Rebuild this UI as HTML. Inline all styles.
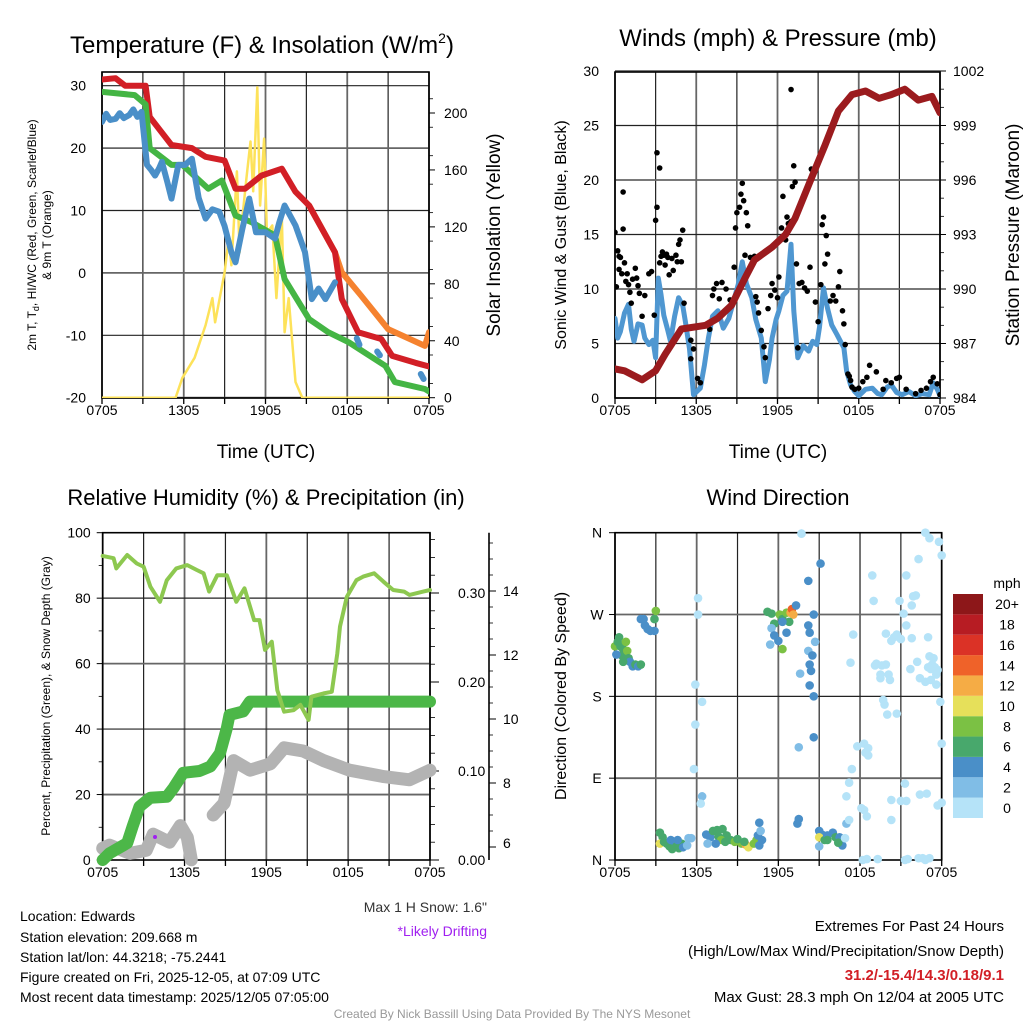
<!DOCTYPE html>
<html><head><meta charset="utf-8"><style>
body{margin:0;background:#fff;}
svg{display:block;font-family:"Liberation Sans",Arial,sans-serif;}
</style></head><body>
<svg id="c" width="1024" height="1024" viewBox="0 0 1024 1024"></svg>
<script>
// ---------- DATA ----------
const xTickLabels=["0705","1305","1905","0105","0705"];
const tempTicks=[-20,-10,0,10,20,30];
const solarTicks=[0,40,80,120,160,200];
const windTicks=[0,5,10,15,20,25,30];
const presTicks=[984,987,990,993,996,999,1002];
const rhTicks=[0,20,40,60,80,100];
const precipTicks=[0.00,0.10,0.20,0.30];
const precipTickLabels=["0.00","0.10","0.20","0.30"];
const snowTicks=[6,8,10,12,14];
const dirTickLabels=["N","E","S","W","N"];
const speedBins=["0","2","4","6","8","10","12","14","16","18","20+"];
const speedColors=["#b5e3f8","#80bde6","#4a8fc8","#48a86c","#7bc144","#e6e05a","#f5ac45","#ef6229","#db3226","#b71c23","#8d1719"];

const tHours=[0,1,1.7,3.2,3.5,5.1,6.6,7.6,9,9.8,10.5,11.7,13.2,14.2,15.2,17.1,17.6,18.8,20.5,21.3,23,24];
const tempRed=[31,31.2,30,30,25,20.5,20,18.6,18,13.5,13.5,15.6,16.7,13,10.8,3.3,-4.2,-9.5,-10.6,-13.3,-14.4,-15];
const oHours=[15.2,17.1,17.6,19,21,23.7,24];
const temp9m=[10.8,3.3,0.1,-3.6,-9,-11.7,-9.5];
const dHours=[0,2.4,3.2,3.5,5.1,5.9,7.8,8.8,9.8,11,12.7,13.4,15.2,16.6,18.1,20.8,21.5,23.7,24];
const dewGreen=[29,28.5,27,20,17.3,17.3,13.5,14.8,9.2,8.1,6,-1,-7.4,-9.5,-11.1,-14.9,-17.5,-18.6,-19];
const wcHours=[0,0.3,0.6,1,1.3,1.6,2,2.3,2.6,2.9,3.3,3.6,3.9,4.2,4.4,4.8,5.1,5.3,5.6,6.1,6.6,7.1,7.6,8.1,8.6,9.0,9.5,9.8,10.3,10.8,11.3,12,12.7,13.0,13.4,14.2,14.9,15.4,15.9,16.4,17.1];
const wcBlue=[24.2,25.5,24.5,24.7,25.6,24.8,25.3,26.2,25.0,25.8,17.3,16.5,15.6,16.8,17.8,14.5,11.9,14,17.3,17.3,18.3,12,8.7,10.2,9.8,7.5,3.3,1.7,7,11.9,6.5,6.5,5.5,8,10.8,7.6,3.3,-4.2,-2.5,-4.2,-1.5];
const wcHours2=[18.7,18.9,20.2,20.4,23.4,23.6];
const wcBlue2=[-10.5,-11.5,-12.6,-13.2,-16.2,-17];
const sHours=[0,5.4,5.9,6.8,7.6,8.1,8.3,9,9.3,9.5,9.9,10.1,10.3,10.6,10.9,11.1,11.4,11.6,11.9,12.1,12.5,12.8,13.2,13.4,13.7,14.2,14.7,24];
const solar=[0,0,14,28,51,70,53,88,112,93,159,102,126,154,180,145,218,135,182,116,121,70,128,46,70,11,0,0];

const pHours=[0,0.7,2,3,3.7,4.9,6.7,7.6,8.6,9.6,10.3,11.6,12.6,13.3,14.5,15.5,16.5,17.5,18.5,19.5,20.4,21.4,22.4,23.4,24];
const pressure=[985.6,985.5,985,985.5,986.4,987.8,988,988.4,989.1,990.6,991.6,992.3,993,993.9,996.1,997.9,999.8,1000.7,1000.9,1000.5,1000.7,1001,1000.4,1000.6,999.7];
const wHours=[0,0.2,0.4,0.7,1,1.2,1.4,1.7,2,2.2,2.5,2.8,3.0,3.2,3.4,3.6,3.9,4.1,4.4,4.7,5.0,5.2,5.5,5.8,6.3,6.6,6.9,7.2,7.6,8.0,8.4,8.8,9.1,9.4,9.7,10.1,10.4,10.8,11.1,11.4,11.6,11.9,12.1,12.4,12.7,13,13.2,13.5,13.9,14.3,14.6,14.9,15.1,15.4,15.7,16,16.4,16.9,17.1,17.4,17.7,18,18.5,19,19.4,19.7,20.1,20.4,20.8,21.2,21.7,22.2,22.7,23.2,23.5,23.8,24];
const windSpd=[7.3,5.5,6.1,7.8,8.6,6.3,5.2,6.8,6.7,5.5,4.9,5.3,3.7,11,9.5,7.6,6.2,5.2,7.5,9.2,8.5,7,4.5,0.3,0.9,3,5.5,7.5,8,6.4,7.3,9.1,10.4,12.5,10.5,9.2,7.2,5.5,1.5,3.5,5.5,7.2,8,9.4,9.8,14.1,8,3.7,4.8,4.3,5.2,4.9,6.5,10.1,8.2,6.7,5.8,4.6,2.5,1.2,0.6,0.2,0.8,0.9,0.4,0.3,1.0,1.2,0.5,0.3,0.6,0.2,0.4,0.3,1.4,0.8,0.2];
const gHours=[0,0.1,0.2,0.3,0.4,0.5,0.6,0.6,0.3,0.7,0.8,0.9,1.0,1.1,1.2,1.3,1.5,1.6,1.7,1.8,2.0,2.2,2.5,2.7,2.9,3.0,3.1,3.1,3.3,3.3,3.4,3.5,3.6,3.7,3.8,3.9,4.0,4.2,4.3,4.5,4.6,4.7,4.8,4.9,5.0,5.1,5.6,5.8,5.6,6.1,6.3,7.0,7.2,7.3,7.5,7.7,7.9,8.2,8.5,8.8,8.9,9.0,9.2,9.3,9.4,9.5,9.7,9.8,9.6,10.0,10.3,10.4,10.5,10.6,10.8,11.0,11.1,11.3,11.5,11.6,11.8,12.0,12.1,12.3,12.4,12.6,12.7,12.8,13.0,13.1,13.0,13.2,13.3,13.4,13.5,13.6,13.8,14.0,14.2,14.4,14.5,14.8,15.0,15.2,15.3,15.4,15.5,15.6,15.7,15.9,16.1,16.3,16.5,16.6,16.8,16.9,17.0,17.2,17.3,17.4,17.5,17.7,18.0,18.3,18.6,18.8,19.3,19.8,20.0,20.4,20.8,21.0,21.5,22.2,22.6,23.0,23.3,23.5,23.8,24.0];
const gustSpd=[15.2,10.2,13.5,13,12.9,11.4,18.9,15.5,11.8,12.4,10.7,11.4,10.4,9.7,8.7,10.9,11.9,11.0,10.3,9.6,7.5,9.4,11.4,11.6,7.6,16.3,22.5,17.5,21.1,12.4,13.0,13.4,13.1,12.2,13.2,12.9,11.3,12.8,11.7,13.1,12.5,14.1,14.5,12.5,15.4,8.7,5.3,4.5,3.6,1.8,1.4,6.3,9.4,10.0,10.5,9.1,10.6,10.0,9.0,12.0,15.6,17.0,17.5,18.7,19.7,18.1,17.0,15.8,13.1,12.9,13.0,9.3,8.8,7.8,6.2,4.7,3.7,8.2,9.4,10.5,9.9,9.2,11.1,15.6,18.5,14.5,16.6,16.0,16.2,19.4,28.3,21.3,19.8,12.3,4.6,10.5,10.6,10.1,9.8,12.0,21.0,8.8,7.0,10.4,15.9,16.6,12.3,14.9,13.2,8.9,9.4,8.9,10.2,11.6,8.0,6.8,4.9,2.2,2.0,1.6,1.0,0.8,0.9,1.5,1.9,3.0,2.4,0.8,1.6,1.4,1.8,1.9,0.8,0.4,0.7,0.9,1.5,1.9,1.3,0.3];

const rhHours=[0,0.8,1,1.8,2.5,3,3.5,4.2,4.7,5.4,6.2,6.9,7.4,7.8,8.4,9.1,9.8,10.4,11.1,11.5,11.9,12.4,12.8,13.3,14,14.5,15.1,15.3,16.2,16.8,17.2,17.4,17.9,18.6,19.1,19.9,20.6,21.3,22.1,22.5,23.5,24];
const rh=[92.9,92.2,89.1,93.2,90.6,89.6,83.5,78.9,85.5,89.1,90.1,88.6,87.6,82,87,87,78.9,83,73.3,73.3,64.2,66.7,51.9,45.3,45.8,47.4,42.8,49.9,50.9,51.4,63.1,71.3,80.4,85.5,86.6,87.6,85,82.5,82,81,82,82.5];
const prHours=[0,0.5,1.8,2.2,2.7,3.5,4.7,5.2,5.9,7.1,7.9,8.6,9.1,9.3,10.3,10.8,24];
const precip=[0,0.0075,0.019,0.038,0.06,0.07,0.071,0.081,0.098,0.10,0.105,0.12,0.148,0.163,0.167,0.178,0.178];
const snHours1=[0,0.5,2,3.2,3.7,4.9,5.7,6.2,6.5];
const snow1=[5.96,6.06,5.8,5.9,6.4,6.15,6.67,6.3,5.6];
const snHours2=[8.1,8.9,9.6,10.8,12.3,13.3,14.7,16.2,18.1,20.6,22.5,24];
const snow2=[7.0,7.37,8.7,8.4,8.6,9.1,9.0,8.7,8.4,8.2,8.1,8.4];

const dirHours=[0.0,0.2,0.3,0.4,0.5,0.6,0.8,0.9,1.0,1.1,1.3,1.5,1.7,1.9,0.1,0.6,1.9,2.1,2.2,2.4,2.6,2.9,2.9,3.0,6.1,6.1,5.9,6.4,5.9,5.8,6.4,6.3,3.3,3.5,3.3,3.6,3.8,4.0,4.2,4.4,4.5,4.7,4.9,5.0,5.4,5.6,5.3,4.1,4.6,6.7,7.0,7.2,7.5,7.9,8.2,7.6,7.8,8.1,8.5,8.8,9.3,9.6,9.8,10.2,10.4,9.5,9.0,10.6,10.8,10.5,10.7,10.6,7.4,6.8,11.2,11.5,11.7,12.1,12.3,12.6,12.9,13.0,13.1,12.8,12.3,12.6,11.5,11.7,11.4,12.0,12.3,13.3,13.7,14.2,15.1,14.6,14.2,14.3,14.7,14.2,14.5,14.3,13.6,14.4,14.3,14.6,14.6,13.5,13.4,13.5,15.0,15.2,15.0,15.4,15.6,16.0,16.2,16.5,16.7,16.4,15.6,16.9,15.0,17.0,17.2,17.0,17.5,17.3,17.8,17.4,17.2,18.3,18.6,18.4,18.6,18.1,18.3,18.5,19.0,19.1,19.2,19.6,19.9,19.5,19.5,20.1,20.2,19.7,19.8,20.0,20.7,19.9,20.5,20.3,20.7,21.0,20.9,21.2,21.4,21.8,21.7,22.2,22.4,22.8,23.2,23.6,23.0,23.1,23.3,23.0,23.2,23.5,23.7,23.6,23.4,23.9,24.0,24.0,23.7,22.9,22.4,21.3,21.4,21.0,20.3,20.3,22.3,22.6,22.8,23.1,18.2,18.5,19.3,21.3,21.5,21.8,21.9,22.1,21.4,22.3,23.1,23.8,24.0,22.8,18.9,13.7];
const dirDeg=[235,240,245,235,225,232,240,230,222,218,213,215,213,215,226,218,265,265,258,254,252,252,265,274,288,270,193,174,149,100,70,62,30,25,18,20,18,15,12,20,15,13,18,14,24,24,16,22,22,28,25,32,33,34,27,26,22,20,22,20,18,17,14,18,22,20,23,16,22,27,32,41,18,18,273,271,260,270,265,272,272,276,270,262,262,250,255,247,237,241,232,280,359,307,326,270,258,250,240,230,225,215,205,208,192,180,135,124,40,45,32,28,25,22,27,30,25,25,16,19,22,24,15,40,44,70,248,217,125,100,85,128,123,118,115,57,55,48,285,214,216,214,215,204,200,204,198,176,171,160,161,249,245,241,248,243,285,271,258,244,210,218,200,196,198,193,245,224,215,212,210,212,209,204,222,174,128,63,60,73,72,84,65,65,66,44,2,2,0,2,0,1,1,0,1,280,290,291,313,331,354,350,335,360,313,359];
const dirSpd=[9,7,6,7,6,7,8,8,6,5,4,6,5,6,5,6,4,4,4,4,5,4,6,8,1,1,1,1,1,1,2,1,6,6,10,7,6,6,6,5,6,6,6,5,3,3,3,5,4,5,4,6,6,6,6,7,8,7,6,8,8,12,10,8,8,6,7,4,4,4,3,4,5,3,6,7,6,8,6,9,13,15,12,7,4,4,3,4,3,4,8,4,1,4,4,4,4,4,3,3,4,4,3,4,4,4,4,3,4,4,4,4,10,6,5,5,6,4,4,6,6,1,3,2,1,1,1,1,1,1,1,1,1,1,1,1,1,1,1,1,1,1,1,1,1,1,1,1,1,1,1,1,1,1,1,1,1,1,1,1,1,1,1,1,1,1,1,1,1,1,1,1,1,1,1,1,1,1,1,1,1,1,1,1,1,1,1,1,1,1,1,1,1,1,1,1,1,1,1,1,1,1,1,1,1,1,1];

// ---------- DRAW ----------
const svg=document.getElementById('c');
const NS="http://www.w3.org/2000/svg";
function mk(tag,attrs,parent){const e=document.createElementNS(NS,tag);for(const k in attrs)e.setAttribute(k,attrs[k]);(parent||svg).appendChild(e);return e;}
function txt(s,x,y,size,anchor,parent,extra){const e=mk('text',Object.assign({x:x,y:y,'font-size':size,'text-anchor':anchor||'middle',fill:'#000'},extra||{}),parent);e.textContent=s;return e;}
function lin(d0,d1,p0,p1){return v=>p0+(v-d0)/(d1-d0)*(p1-p0);}
function pathD(xs,ys,fx,fy){return xs.map((h,i)=>(i?'L':'M')+fx(h).toFixed(1)+','+fy(ys[i]).toFixed(1)).join('');}

function frame(g,L,R,T,B,hLines){
  for(let k=0;k<=8;k++){const x=L+(R-L)*k/8;mk('line',{x1:x,y1:T,x2:x,y2:B,stroke:k%2?'#222':'#666','stroke-width':k%2?1.2:1.8},g);}
  hLines.forEach((y,i)=>mk('line',{x1:L,y1:y,x2:R,y2:y,stroke:i%2?'#222':'#666','stroke-width':i%2?1.2:1.8},g));
  mk('rect',{x:L,y:T,width:R-L,height:B-T,fill:'none',stroke:'#000','stroke-width':1.6},g);
  for(let k=0;k<=8;k++){const x=L+(R-L)*k/8;mk('line',{x1:x,y1:B,x2:x,y2:B+6,stroke:'#000','stroke-width':1.3},g);}
  xTickLabels.forEach((s,i)=>txt(s,L+(R-L)*i/4,B+17,14,'middle',g));
}

// Panel 1
(function(){
const g=mk('g',{});
const L=102,R=429,T=72,B=398;
const hx=lin(0,24,L,R), ty=lin(-20,30,397.7,85.7), sy=lin(0,200,397.7,113);
frame(g,L,R,T,B,tempTicks.map(ty));
tempTicks.forEach(v=>{txt(String(v),L-16,ty(v)+5,14,'end',g);});
solarTicks.forEach(v=>{txt(String(v),R+15,sy(v)+5,14,'start',g);mk('line',{x1:R,y1:sy(v),x2:R+6,y2:sy(v),stroke:'#000'},g);});
for(let v=10;v<220;v+=20){mk('line',{x1:R,y1:sy(v),x2:R+4,y2:sy(v),stroke:'#000','stroke-width':0.8},g);}
const cp=mk('clipPath',{id:'cp1'},g);mk('rect',{x:L,y:T,width:R-L,height:B-T},cp);
const pg=mk('g',{'clip-path':'url(#cp1)'},g);
let e;
e=mk('path',{d:pathD(sHours,solar,hx,sy),fill:'none',stroke:'#fde25a','stroke-width':2.5,'stroke-linejoin':'round'},pg);
e=mk('path',{d:pathD(oHours,temp9m,hx,ty),fill:'none',stroke:'#f5822f','stroke-width':6,'stroke-linejoin':'round','stroke-linecap':'round'},pg);
e=mk('path',{d:pathD(tHours,tempRed,hx,ty),fill:'none',stroke:'#d21f26','stroke-width':6,'stroke-linejoin':'round','stroke-linecap':'round'},pg);
e=mk('path',{d:pathD(dHours,dewGreen,hx,ty),fill:'none',stroke:'#44b544','stroke-width':6,'stroke-linejoin':'round','stroke-linecap':'round'},pg);
e=mk('path',{d:pathD(wcHours,wcBlue,hx,ty),fill:'none',stroke:'#4a8fc8','stroke-width':6,'stroke-linejoin':'round','stroke-linecap':'round'},pg);
for(let i=0;i<wcHours2.length;i+=2){e=mk('path',{d:pathD(wcHours2.slice(i,i+2),wcBlue2.slice(i,i+2),hx,ty),fill:'none',stroke:'#4a8fc8','stroke-width':6,'stroke-linecap':'round'},pg);}
e=txt('Temperature (F) & Insolation (W/m',262,53,24,'middle',g);
const sp=mk('tspan',{dy:-10,'font-size':14},e);sp.textContent='2';const sp2=mk('tspan',{dy:10},e);sp2.textContent=')';
e=txt('Time (UTC)',266,458,19,'middle',g);
const yl=mk('text',{transform:'translate(36,235) rotate(-90)','font-size':12,'text-anchor':'middle'},g);yl.textContent='2m T, T';const sb=mk('tspan',{'font-size':9,dy:3},yl);sb.textContent='d';const r1=mk('tspan',{dy:-3},yl);r1.textContent=', HI/WC (Red, Green, Scarlet/Blue)';

e=mk('text',{transform:'translate(51,235) rotate(-90)','font-size':12,'text-anchor':'middle'},g);e.textContent='& 9m T (Orange)';
e=mk('text',{transform:'translate(500,235) rotate(-90)','font-size':19,'text-anchor':'middle'},g);e.textContent='Solar Insolation (Yellow)';
})();

// Panel 2
(function(){
const g=mk('g',{});
const L=615,R=940,T=72,B=398;
const hx=lin(0,24,L,R), wy=lin(0,30,398,71), py=lin(984,1002,398,71);
frame(g,L,R,T,B,windTicks.map(wy));
windTicks.forEach(v=>{txt(String(v),L-16,wy(v)+5,14,'end',g);});
presTicks.forEach(v=>{txt(String(v),R+13,py(v)+5,14,'start',g);mk('line',{x1:R,y1:py(v),x2:R+6,y2:py(v),stroke:'#000'},g);});
for(let v=985;v<1002;v++){if((v-984)%3)mk('line',{x1:R,y1:py(v),x2:R+4,y2:py(v),stroke:'#000','stroke-width':0.8},g);}
const cp=mk('clipPath',{id:'cp2'},g);mk('rect',{x:L,y:T,width:R-L,height:B-T},cp);
const pg=mk('g',{'clip-path':'url(#cp2)'},g);
let e=mk('path',{d:pathD(wHours,windSpd,hx,wy),fill:'none',stroke:'#4f97d1','stroke-width':5,'stroke-linejoin':'round','stroke-linecap':'round'},pg);
gHours.forEach((h,i)=>{const c=mk('circle',{cx:hx(h),cy:wy(gustSpd[i]),r:2.8,fill:'#000'},pg);

});
e=mk('path',{d:pathD(pHours,pressure,hx,py),fill:'none',stroke:'#9b1b1e','stroke-width':7,'stroke-linejoin':'round','stroke-linecap':'round'},pg);
e=txt('Winds (mph) & Pressure (mb)',778,46,24,'middle',g);
e=txt('Time (UTC)',778,458,19,'middle',g);
e=mk('text',{transform:'translate(566,235) rotate(-90)','font-size':16,'text-anchor':'middle'},g);e.textContent='Sonic Wind & Gust (Blue, Black)';
e=mk('text',{transform:'translate(1019,235) rotate(-90)','font-size':19,'text-anchor':'middle'},g);e.textContent='Station Pressure (Maroon)';
})();

// Panel 3
(function(){
const g=mk('g',{});
const L=102.7,R=430,T=532.7,B=860;
const hx=lin(0,24,L,R), ry=lin(0,100,860,532.7), py=lin(0,0.1,860,771), sy=lin(6,8,847,783);
frame(g,L,R,T,B,[20,40,60,80].map(ry));
rhTicks.forEach(v=>{txt(String(v),L-12,ry(v)+5,14,'end',g);mk('line',{x1:L-6,y1:ry(v),x2:L,y2:ry(v),stroke:'#000'},g);});
for(let v=10;v<100;v+=20)mk('line',{x1:L-4,y1:ry(v),x2:L,y2:ry(v),stroke:'#000','stroke-width':0.8},g);
precipTicks.forEach((v,i)=>{txt(precipTickLabels[i],R+28,py(v)+5,14,'start',g);mk('line',{x1:R,y1:py(v),x2:R+9,y2:py(v),stroke:'#000'},g);});
for(let v=0.02;v<0.37;v+=0.02){mk('line',{x1:R,y1:py(v),x2:R+5,y2:py(v),stroke:'#000','stroke-width':0.8},g);}
mk('line',{x1:489,y1:T,x2:489,y2:B,stroke:'#000','stroke-width':1.6},g);
snowTicks.forEach(v=>{txt(String(v),503,(v===6?sy(v)+1:sy(v)+5),14,'start',g);mk('line',{x1:489,y1:sy(v),x2:496,y2:sy(v),stroke:'#000'},g);});
for(let v=6;v<16;v+=0.5){if(v%2)mk('line',{x1:489,y1:sy(v),x2:493,y2:sy(v),stroke:'#000','stroke-width':0.8},g);}
let e;
[[snHours1,snow1],[snHours2,snow2]].forEach(a=>{e=mk('path',{d:pathD(a[0],a[1],hx,sy),fill:'none',stroke:'#b3b3b3','stroke-width':13,'stroke-linejoin':'round','stroke-linecap':'round'},g);});
e=mk('circle',{cx:155,cy:837,r:2,fill:'#a020f0'},g);
e=mk('path',{d:pathD(prHours,precip,hx,py),fill:'none',stroke:'#4cb748','stroke-width':12,'stroke-linejoin':'round','stroke-linecap':'round'},g);
e=mk('path',{d:pathD(rhHours,rh,hx,ry),fill:'none',stroke:'#8dc850','stroke-width':4,'stroke-linejoin':'round','stroke-linecap':'round'},g);
e=txt('Relative Humidity (%) & Precipitation (in)',266,505,22,'middle',g);
e=mk('text',{transform:'translate(50,696) rotate(-90)','font-size':12,'text-anchor':'middle'},g);e.textContent='Percent, Precipitation (Green), & Snow Depth (Gray)';
})();

// Panel 4
(function(){
const g=mk('g',{});
const L=615,R=941.7,T=532.7,B=860;
const hx=lin(0,24,L,R), dy=lin(0,360,860,532.7);
frame(g,L,R,T,B,[90,180,270].map(dy));
dirTickLabels.forEach((s,i)=>{txt(s,L-18,dy(i*90)+5,14,'middle',g);mk('line',{x1:L-6,y1:dy(i*90),x2:L,y2:dy(i*90),stroke:'#000'},g);});
const cp=mk('clipPath',{id:'cp4'},g);mk('rect',{x:L-5,y:T-5,width:R-L+10,height:B-T+10},cp);
const pg=mk('g',{'clip-path':'url(#cp4)'},g);
dirHours.forEach((h,i)=>{const idx=Math.min(10,Math.floor(dirSpd[i]/2));const c=mk('circle',{cx:hx(h),cy:dy(dirDeg[i]),r:4.3,fill:speedColors[idx]},pg);

});
const lg=mk('g',{},g);
const by=lin(0,11,818,594);
speedColors.forEach((c,i)=>{mk('rect',{x:953,y:by(i+1),width:30,height:by(i)-by(i+1),fill:c},lg);txt(speedBins[i],1007,by(i)-(by(i)-by(i+1))/2+5,14,'middle',lg);});
txt('mph',1007,588,14,'middle',lg);
let e=txt('Wind Direction',778,505,22,'middle',g);
e=mk('text',{transform:'translate(566,696) rotate(-90)','font-size':16,'text-anchor':'middle'},g);e.textContent='Direction (Colored By Speed)';
})();
</script>
<svg width="1024" height="1024" style="position:absolute;left:0;top:0;font-family:'Liberation Sans',Arial,sans-serif">
<g font-size="14" fill="#000">
<text x="20" y="921">Location: Edwards</text>
<text x="20" y="942">Station elevation: 209.668 m</text>
<text x="20" y="962">Station lat/lon: 44.3218; -75.2441</text>
<text x="20" y="982">Figure created on Fri, 2025-12-05, at 07:09 UTC</text>
<text x="20" y="1002">Most recent data timestamp: 2025/12/05 07:05:00</text>
</g>
<text x="487" y="912" font-size="14" text-anchor="end" fill="#333">Max 1 H Snow: 1.6"</text>
<text x="487" y="936" font-size="14" text-anchor="end" fill="#a020f0">*Likely Drifting</text>
<g font-size="15" text-anchor="end" fill="#000">
<text x="1004" y="931">Extremes For Past 24 Hours</text>
<text x="1004" y="956">(High/Low/Max Wind/Precipitation/Snow Depth)</text>
<text x="1004" y="980" fill="#d21f26" font-weight="bold">31.2/-15.4/14.3/0.18/9.1</text>
<text x="1004" y="1002">Max Gust: 28.3 mph On 12/04 at 2005 UTC</text>
</g>
<text x="512" y="1018" font-size="12" text-anchor="middle" fill="#999">Created By Nick Bassill Using Data Provided By The NYS Mesonet</text>
</svg>
</body></html>
